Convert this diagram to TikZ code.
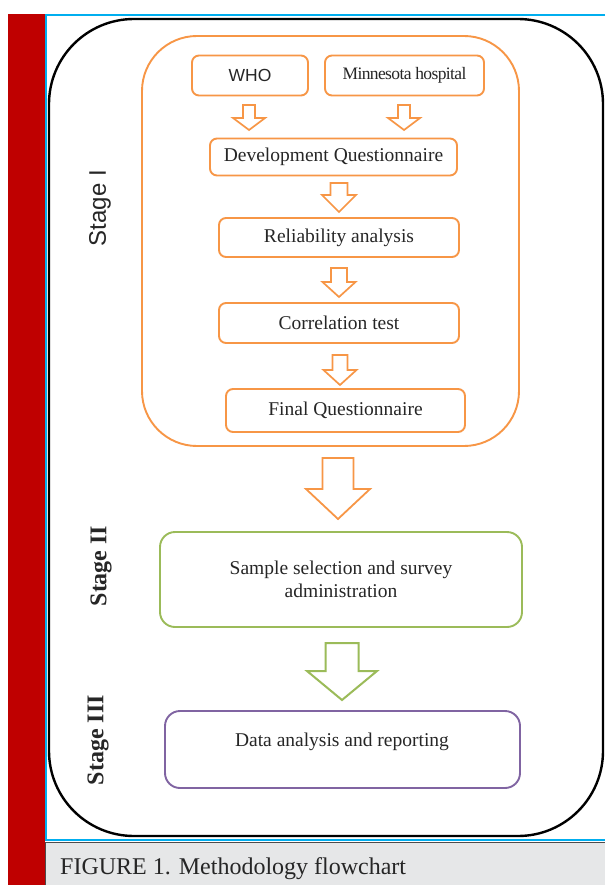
\documentclass[tikz,border=0pt]{standalone}
\usepackage{fontspec}
\setmainfont{Liberation Serif}
\newfontfamily\arialf{Liberation Sans}
\definecolor{redbar}{HTML}{BF0000}
\definecolor{cyanb}{HTML}{00AEEF}
\definecolor{capgray}{HTML}{E6E7E8}
\definecolor{orng}{HTML}{F79646}
\definecolor{grn}{HTML}{9BBB59}
\definecolor{purp}{HTML}{8064A2}
\definecolor{txt}{HTML}{262626}
\newcommand\blockarrow[8]{%
  \draw[#1, line width=#8, line join=miter, fill=white]
    ({#2-#6},#3) -- ({#2+#6},#3) -- ({#2+#6},#4) -- ({#2+#7},#4) --
    (#2,#5) -- ({#2-#7},#4) -- ({#2-#6},#4) -- cycle;}
\tikzset{
  obox/.style={draw=orng, line width=1.9pt, rounded corners=7pt, inner sep=0pt,
    text=txt, font=\fontsize{19.5}{22}\selectfont},
  bigbox/.style={line width=1.9pt, rounded corners=15pt, inner sep=0pt,
    text=txt, font=\fontsize{19.5}{23}\selectfont, align=center},
  stagelbl/.style={rotate=90, text=txt, inner sep=0pt}
}
\begin{document}
\begin{tikzpicture}[x=1pt,y=-1pt]
\useasboundingbox (0,0) rectangle (605,885);
\fill[white] (0,0) rectangle (605,885);
% frame
\fill[redbar] (8,14) rectangle (44.5,885);
\fill[capgray] (45,842) rectangle (605,885);
\draw[black!70, line width=0.8pt] (45,842.5) -- (605,842.5);
\draw[black!70, line width=0.8pt] (45,842) -- (45,885);
\draw[cyanb, line width=2pt] (605,15) -- (46,15) -- (46,840) -- (605,840);
\node[anchor=base west, inner sep=0pt, text=txt, font=\fontsize{24}{28}\selectfont] (cap) at (60,874) {FIGURE 1. Methodology flowchart};
% outer black rounded rectangle
\draw[black, line width=2.4pt, rounded corners=85pt] (49,19) rectangle (603,836);
% stage I container
\draw[orng, line width=1.9pt, rounded corners=55pt] (142,36) rectangle (519,446);
% stage labels
\node[stagelbl, font=\arialf\fontsize{24}{28}\selectfont] (s1) at (100,208) {Stage I};
\node[stagelbl, font=\bfseries\fontsize{24}{28}\selectfont] (s2) at (101,566) {Stage II};
\node[stagelbl, font=\bfseries\fontsize{24}{28}\selectfont] (s3) at (98,740) {Stage III};
% stage I boxes
\node[obox, minimum width=116pt, minimum height=40pt, font=\arialf\fontsize{17.5}{20}\selectfont] (who) at (250,75.5) {WHO};
\node[obox, minimum width=159pt, minimum height=40pt, font=\fontsize{17.5}{20}\selectfont] (minn) at (404.5,75.5) {\addfontfeature{LetterSpace=-3.5}Minnesota hospital};
\node[obox, minimum width=247pt, minimum height=37pt] (dev) at (333.5,157) {Development Questionnaire};
\node[obox, minimum width=240pt, minimum height=39pt] (rel) at (339,237.5) {Reliability analysis};
\node[obox, minimum width=240pt, minimum height=40pt] (cor) at (339,323) {Correlation test};
\node[obox, minimum width=239pt, minimum height=43pt] (fin) at (345.5,410.5) {Final Questionnaire};
% small arrows
\blockarrow{orng}{249}{105}{118}{130}{6}{16}{1.7pt}
\blockarrow{orng}{404}{105}{118}{130}{6}{16}{1.7pt}
\blockarrow{orng}{339}{183}{195}{212}{8.5}{17}{1.7pt}
\blockarrow{orng}{339}{268}{282}{297}{8}{16.5}{1.7pt}
\blockarrow{orng}{340}{355}{370}{385}{7.5}{16.5}{1.7pt}
% big arrows
\blockarrow{orng}{338}{458}{489}{519}{15.5}{32}{1.8pt}
% stage II and III
\node[bigbox, draw=grn, minimum width=362pt, minimum height=95pt] (samp) at (341,579.5) {Sample selection and survey\\administration};
\blockarrow{grn}{342}{643}{671}{700}{16.5}{35}{2pt}
\node[bigbox, draw=purp, minimum width=355pt, minimum height=77pt] (data) at (342.5,749.5) {};
\node[text=txt, inner sep=0pt, font=\fontsize{19.5}{23}\selectfont] (datat) at (342,742) {Data analysis and reporting};
\end{tikzpicture}
\end{document}
